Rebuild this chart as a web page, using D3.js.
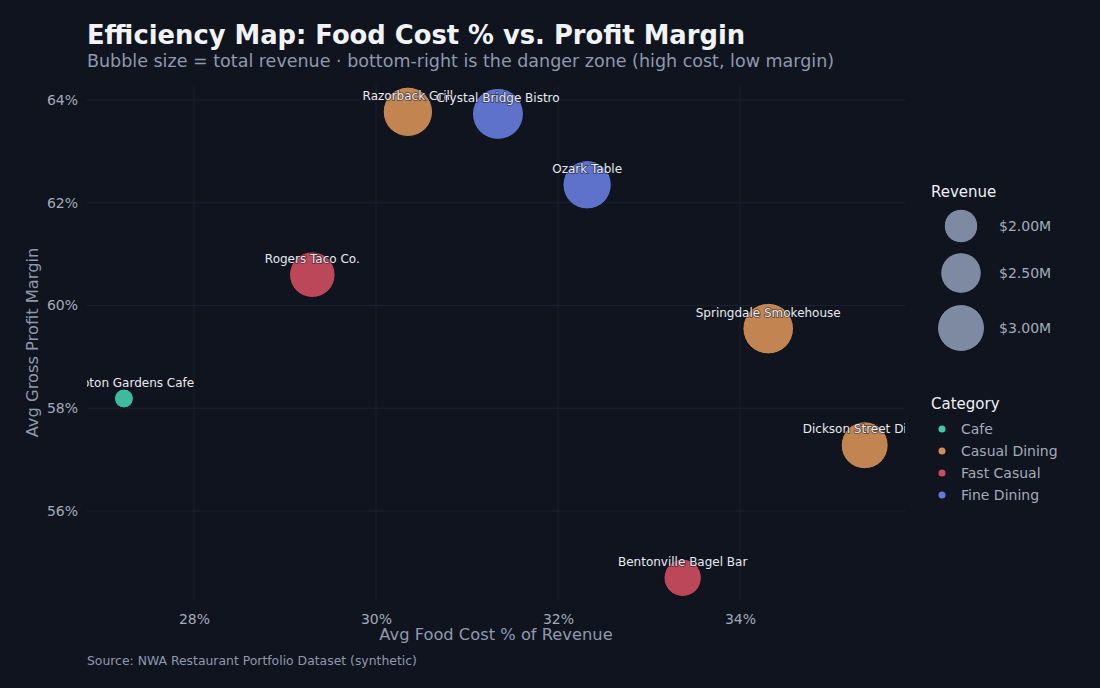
<!DOCTYPE html>
<html>
<head>
<meta charset="utf-8">
<script src="https://cdn.jsdelivr.net/npm/d3@7"></script>
<style>
  body { margin: 0; background: #10141f; }
  svg { display: block; font-family: "DejaVu Sans", sans-serif; }
</style>
</head>
<body>
<svg id="chart" width="1100" height="688"></svg>
<script>
// data
const names = ["Hampton Gardens Cafe", "Razorback Grill", "Crystal Bridge Bistro", "Ozark Table",
  "Rogers Taco Co.", "Springdale Smokehouse", "Dickson Street Diner", "Bentonville Bagel Bar"];
const categories = ["Cafe", "Casual Dining", "Fine Dining", "Fine Dining",
  "Fast Casual", "Casual Dining", "Casual Dining", "Fast Casual"];
const foodCost = [27.23, 30.35, 31.34, 32.32, 29.30, 34.31, 35.37, 33.37];
const margin = [58.19, 63.77, 63.73, 62.35, 60.60, 59.55, 57.28, 54.70];
const revenue = [1.14e6, 3.20e6, 3.34e6, 3.12e6, 2.89e6, 3.31e6, 3.00e6, 2.26e6];

const catNames = ["Cafe", "Casual Dining", "Fast Casual", "Fine Dining"];
const catColors = ["#3fc8a8", "#d08d55", "#c94b5c", "#6479d8"];
const sizeLegend = [2e6, 2.5e6, 3e6];
const xTicks = [28, 30, 32, 34];
const yTicks = [56, 58, 60, 62, 64];

const svg = d3.select("#chart");
const W = 1100, H = 688;
const plot = { left: 87, right: 905, top: 85, bottom: 600 };

svg.append("rect").attr("width", W).attr("height", H).attr("fill", "#10141f");

// scales
const x = d3.scaleLinear().domain([26.824, 35.813]).range([plot.left, plot.right]);
const y = d3.scaleLinear().domain([54.268, 64.292]).range([plot.bottom, plot.top]);
const r = d3.scaleSqrt().domain([2e6, 3e6]).range([16.8, 23.5]);
const color = d3.scaleOrdinal().domain(catNames).range(catColors);

const data = names.map((n, i) => ({
  name: n, cat: categories[i], fc: foodCost[i], gm: margin[i], rev: revenue[i]
}));

// grid
const grid = svg.append("g");
grid.selectAll(".vx").data(xTicks).enter().append("line")
  .attr("x1", d => x(d)).attr("x2", d => x(d))
  .attr("y1", plot.top).attr("y2", plot.bottom)
  .attr("stroke", "#1b2030").attr("stroke-width", 1);
grid.selectAll(".hy").data(yTicks).enter().append("line")
  .attr("x1", plot.left).attr("x2", plot.right)
  .attr("y1", d => y(d)).attr("y2", d => y(d))
  .attr("stroke", "#1b2030").attr("stroke-width", 1);

// axes (no domain lines, just labels)
const xAxis = svg.append("g")
  .attr("transform", `translate(0,${plot.bottom})`)
  .call(d3.axisBottom(x).tickValues(xTicks).tickFormat(d => d + "%").tickSize(0).tickPadding(14));
const yAxis = svg.append("g")
  .attr("transform", `translate(${plot.left},0)`)
  .call(d3.axisLeft(y).tickValues(yTicks).tickFormat(d => d + "%").tickSize(0).tickPadding(9));
[xAxis, yAxis].forEach(a => {
  a.select(".domain").remove();
  a.selectAll("text").attr("fill", "#a3abbb").style("font-size", "14px")
    .style("font-family", "DejaVu Sans, sans-serif");
});

// clipped plot content
svg.append("clipPath").attr("id", "clip").append("rect")
  .attr("x", plot.left).attr("y", plot.top - 10)
  .attr("width", plot.right - plot.left).attr("height", plot.bottom - plot.top + 10);
const pg = svg.append("g").attr("clip-path", "url(#clip)");

pg.selectAll("circle").data(data).enter().append("circle")
  .attr("cx", d => x(d.fc)).attr("cy", d => y(d.gm))
  .attr("r", d => r(d.rev))
  .attr("fill", d => color(d.cat))
  .attr("fill-opacity", 0.93)
  .attr("stroke", "#0b0e17").attr("stroke-width", 1);

pg.selectAll("text.lbl").data(data).enter().append("text")
  .attr("class", "lbl")
  .attr("x", d => x(d.fc)).attr("y", d => y(d.gm) - 12)
  .attr("text-anchor", "middle")
  .style("font-size", "12px")
  .attr("fill", "#e8eaf0")
  .attr("stroke", "#10141f").attr("stroke-width", 1.6)
  .attr("stroke-opacity", 0.6)
  .style("paint-order", "stroke")
  .text(d => d.name);

// titles
svg.append("text").attr("x", 87).attr("y", 44)
  .style("font-size", "25.8px").style("font-weight", "bold")
  .attr("fill", "#f2f3f8").text("Efficiency Map: Food Cost % vs. Profit Margin");
svg.append("text").attr("x", 87).attr("y", 67)
  .style("font-size", "17.5px").attr("fill", "#8e99ae")
  .text("Bubble size = total revenue \u00b7 bottom-right is the danger zone (high cost, low margin)");

svg.append("text").attr("x", (plot.left + plot.right) / 2).attr("y", 640)
  .attr("text-anchor", "middle").style("font-size", "16.3px").attr("fill", "#8e99ae")
  .text("Avg Food Cost % of Revenue");
svg.append("text")
  .attr("transform", `translate(38,${(plot.top + plot.bottom) / 2}) rotate(-90)`)
  .attr("text-anchor", "middle").style("font-size", "16.3px").attr("fill", "#8e99ae")
  .text("Avg Gross Profit Margin");

svg.append("text").attr("x", 87).attr("y", 665)
  .style("font-size", "12.4px").attr("fill", "#8e99ae")
  .text("Source: NWA Restaurant Portfolio Dataset (synthetic)");

// legends
const lg = svg.append("g");
lg.append("text").attr("x", 931).attr("y", 197)
  .style("font-size", "15px").attr("fill", "#eef0f5").text("Revenue");
const sizeY = [226, 273, 328];
sizeLegend.forEach((v, i) => {
  lg.append("circle").attr("cx", 961).attr("cy", sizeY[i]).attr("r", r(v))
    .attr("fill", "#7d8aa1").attr("stroke", "#0b0e17").attr("stroke-width", 1);
  lg.append("text").attr("x", 999).attr("y", sizeY[i] + 5)
    .style("font-size", "14px").attr("fill", "#a3abbb")
    .text("$" + d3.format(".2f")(v / 1e6) + "M");
});

lg.append("text").attr("x", 931).attr("y", 409)
  .style("font-size", "15px").attr("fill", "#eef0f5").text("Category");
catNames.forEach((c, i) => {
  const cy = 429 + i * 22;
  lg.append("circle").attr("cx", 942).attr("cy", cy).attr("r", 3.5).attr("fill", color(c));
  lg.append("text").attr("x", 961).attr("y", cy + 5)
    .style("font-size", "14px").attr("fill", "#a3abbb").text(c);
});
</script>
</body>
</html>
